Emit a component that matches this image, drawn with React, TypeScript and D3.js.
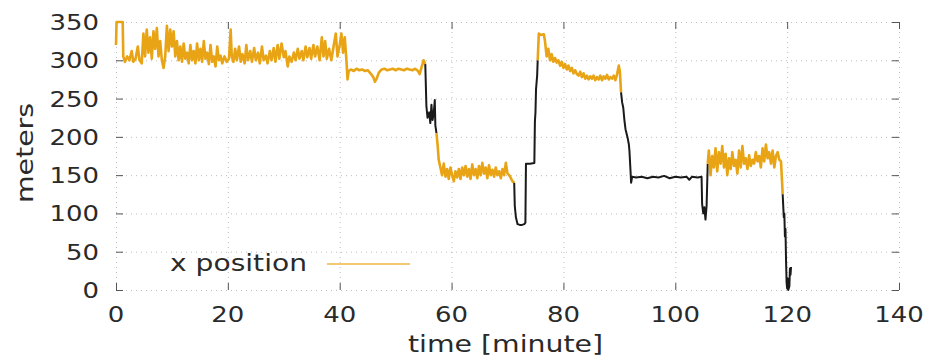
import React, { useEffect, useRef } from "react";
import * as d3 from "d3";

// tick labels
const xTicks = [0, 20, 40, 60, 80, 100, 120, 140];
const yTicks = [0, 50, 100, 150, 200, 250, 300, 350];

// [time in minutes, x position in meters]
const xPosition: [number, number][] = [
    [0, 320], [0.1, 350], [1.2, 350], [1.3, 305], [1.6, 298], [2.0, 305], [2.4, 300], [2.8, 312],
    [3.1, 298], [3.5, 302], [3.9, 318], [4.2, 300], [4.6, 296], [4.9, 335], [5.2, 305], [5.5, 340],
    [5.8, 310], [6.1, 330], [6.4, 302], [6.7, 338], [7.0, 315], [7.3, 342], [7.6, 305], [7.9, 325],
    [8.2, 300], [8.5, 290], [8.8, 305], [9.1, 345], [9.4, 312], [9.7, 340], [10.0, 318], [10.3, 338],
    [10.6, 305], [10.9, 325], [11.2, 300], [11.5, 318], [11.8, 298], [12.1, 322], [12.4, 302], [12.7, 310],
    [13.0, 296], [13.3, 320], [13.6, 300], [13.9, 312], [14.2, 296], [14.5, 322], [14.8, 300], [15.1, 315],
    [15.4, 298], [15.7, 325], [16.0, 302], [16.3, 310], [16.6, 295], [16.9, 320], [17.2, 298], [17.5, 305],
    [17.8, 292], [18.1, 318], [18.4, 300], [18.7, 306], [19.0, 296], [19.4, 305], [19.8, 298], [20.2, 302],
    [20.5, 340], [20.7, 305], [21.0, 298], [21.3, 315], [21.6, 300], [22.0, 318], [22.3, 298], [22.6, 308],
    [23.0, 296], [23.3, 320], [23.6, 300], [24.0, 312], [24.3, 298], [24.7, 316], [25.0, 300], [25.4, 310],
    [25.7, 296], [26.1, 318], [26.4, 300], [26.8, 306], [27.1, 296], [27.5, 312], [27.8, 300], [28.2, 316],
    [28.5, 298], [28.9, 320], [29.2, 302], [29.6, 322], [30.0, 304], [30.3, 312], [30.7, 292], [31.0, 305],
    [31.4, 298], [31.8, 310], [32.1, 300], [32.5, 315], [32.8, 302], [33.2, 312], [33.5, 300], [33.9, 318],
    [34.2, 304], [34.6, 316], [34.9, 302], [35.3, 320], [35.6, 305], [36.0, 318], [36.4, 300], [36.8, 330],
    [37.1, 305], [37.4, 325], [37.7, 302], [38.1, 315], [38.5, 300], [38.9, 318], [39.3, 335], [39.6, 305],
    [40.0, 320], [40.3, 335], [40.6, 310], [40.9, 330], [41.2, 300], [41.4, 275], [41.6, 286],
    [42.0, 288], [42.5, 286], [43.0, 289], [43.5, 287], [44.0, 288], [44.5, 286], [45.0, 287], [45.5, 283],
    [46.0, 278], [46.3, 272], [46.6, 276], [47.0, 284], [47.5, 288], [48.0, 289], [48.5, 287], [49.0, 288],
    [49.5, 289], [50.0, 287], [50.5, 289], [51.0, 288], [51.5, 287], [52.0, 289], [52.5, 288], [53.0, 287],
    [53.5, 289], [54.0, 286], [54.3, 282], [54.6, 290], [55.0, 300], [55.3, 295],
    [55.5, 240], [55.7, 225], [56.0, 232], [56.2, 218], [56.4, 242], [56.6, 222], [56.8, 230], [57.0, 248],
    [57.1, 215], [57.3, 205],
    [57.5, 190], [57.7, 170], [58.0, 160], [58.3, 150], [58.6, 165], [58.9, 148], [59.2, 158], [59.5, 145],
    [59.8, 160], [60.1, 150], [60.4, 142], [60.7, 155], [61.0, 147], [61.3, 158], [61.6, 145], [61.9, 160],
    [62.2, 150], [62.5, 162], [62.8, 148], [63.1, 158], [63.4, 145], [63.7, 164], [64.0, 150], [64.3, 158],
    [64.6, 146], [64.9, 162], [65.2, 150], [65.5, 166], [65.8, 152], [66.1, 160], [66.4, 146], [66.7, 163],
    [67.0, 150], [67.3, 157], [67.6, 148], [67.9, 160], [68.2, 150], [68.5, 155], [68.8, 146], [69.1, 158],
    [69.4, 150], [69.7, 166], [70.0, 152], [70.3, 150], [70.6, 146], [70.9, 142], [71.2, 140],
    [71.3, 110], [71.5, 95], [71.8, 86], [72.2, 85], [72.6, 85], [73.0, 86], [73.2, 88], [73.3, 165],
    [74.0, 165], [74.8, 166], [74.9, 220], [75.0, 232], [75.1, 262], [75.3, 280],
    [75.4, 300], [75.6, 335], [76.0, 333], [76.5, 334], [76.7, 325], [77.0, 305], [77.3, 315], [77.6, 300],
    [77.9, 308], [78.2, 298], [78.5, 303], [78.8, 297], [79.1, 300], [79.4, 293], [79.7, 298], [80.0, 290],
    [80.3, 295], [80.6, 288], [80.9, 293], [81.2, 286], [81.5, 290], [81.8, 283], [82.1, 287], [82.4, 282],
    [82.7, 280], [83.0, 285], [83.3, 278], [83.6, 283], [83.9, 276], [84.2, 280], [84.5, 275], [84.8, 279],
    [85.1, 276], [85.4, 280], [85.7, 274], [86.0, 278], [86.3, 275], [86.6, 280], [86.9, 274], [87.2, 279],
    [87.5, 276], [87.8, 281], [88.1, 275], [88.4, 278], [88.7, 276], [89.0, 280], [89.3, 274], [89.6, 282],
    [89.9, 293], [90.1, 285],
    [90.3, 258], [90.5, 245], [90.7, 238], [90.9, 222], [91.1, 210], [91.3, 204], [91.5, 198], [91.7, 190],
    [91.8, 182], [92.0, 155], [92.1, 140], [92.3, 148], [93, 147], [94, 148], [95, 146], [96, 148],
    [97, 147], [98, 149], [99, 146], [100, 148], [101, 147], [102, 148], [102.5, 144], [103, 148],
    [104, 147], [104.7, 148], [104.8, 112], [105.0, 100], [105.2, 108], [105.4, 92], [105.6, 110],
    [105.8, 165], [106.0, 182], [106.3, 150], [106.6, 175], [106.9, 160], [107.2, 185], [107.5, 155], [107.8, 180],
    [108.1, 165], [108.4, 188], [108.7, 160], [109.0, 178], [109.3, 150], [109.6, 172], [109.9, 158], [110.2, 180],
    [110.5, 162], [110.8, 170], [111.1, 152], [111.4, 182], [111.7, 160], [112.0, 188], [112.3, 165], [112.6, 172],
    [112.9, 158], [113.2, 176], [113.5, 162], [113.8, 170], [114.1, 165], [114.4, 180], [114.7, 168], [115.0, 175],
    [115.3, 160], [115.6, 185], [115.9, 168], [116.2, 190], [116.5, 172], [116.8, 180], [117.1, 165], [117.4, 182],
    [117.7, 160], [118.0, 175], [118.3, 180], [118.6, 170], [118.9, 168], [119.1, 140], [119.2, 125],
    [119.3, 110], [119.4, 95], [119.5, 100], [119.6, 70], [119.7, 80], [119.8, 40], [119.9, 10], [120.0, 2],
    [120.1, 15], [120.2, 0], [120.4, 5], [120.5, 28], [120.6, 20], [120.7, 30],
];

// time spans drawn in black (moving between spots)
const blackRanges: [number, number][] = [
    [55.4, 57.35],
    [71.25, 75.35],
    [90.2, 105.7],
    [119.25, 121],
];

const ORANGE = "#e8a414";

const App = () => {
    const chartRef = useRef<SVGSVGElement>(null);

    useEffect(() => {
        document.body.style.margin = "0";
        const svg = d3.select(chartRef.current);
        svg.selectAll("*").remove();

        const width = 931;
        const height = 364;
        const left = 116, right = 899, top = 22, bottom = 290;

        const x = d3.scaleLinear().domain([0, 140]).range([left, right]);
        const y = d3.scaleLinear().domain([0, 350]).range([bottom, top]);

        svg.attr("width", width).attr("height", height);

        // dotted grid
        const grid = svg.append("g").attr("stroke", "#bdbdbd").attr("stroke-width", 1)
            .attr("stroke-dasharray", "1,4");
        grid.selectAll(".gx").data(xTicks).enter().append("line")
            .attr("x1", (d) => x(d) + 0.5).attr("x2", (d) => x(d) + 0.5)
            .attr("y1", top).attr("y2", bottom);
        grid.selectAll(".gy").data(yTicks).enter().append("line")
            .attr("x1", left).attr("x2", right)
            .attr("y1", (d) => y(d) + 0.5).attr("y2", (d) => y(d) + 0.5);

        // tick marks on all four sides
        const ticks = svg.append("g").attr("stroke", "#555").attr("stroke-width", 1);
        xTicks.forEach((t) => {
            ticks.append("line").attr("x1", x(t) + 0.5).attr("x2", x(t) + 0.5).attr("y1", bottom).attr("y2", bottom - 7);
            ticks.append("line").attr("x1", x(t) + 0.5).attr("x2", x(t) + 0.5).attr("y1", top).attr("y2", top + 7);
        });
        yTicks.forEach((t) => {
            ticks.append("line").attr("x1", left).attr("x2", left + 7).attr("y1", y(t) + 0.5).attr("y2", y(t) + 0.5);
            ticks.append("line").attr("x1", right).attr("x2", right - 7).attr("y1", y(t) + 0.5).attr("y2", y(t) + 0.5);
        });

        // data line, split into coloured runs
        const isBlack = (t: number) => blackRanges.some(([a, b]) => t >= a && t <= b);
        const runs: { color: string; pts: [number, number][] }[] = [];
        for (let i = 1; i < xPosition.length; i++) {
            const p0 = xPosition[i - 1];
            const p1 = xPosition[i];
            const color = isBlack((p0[0] + p1[0]) / 2) ? "#1a1a1a" : ORANGE;
            const last = runs[runs.length - 1];
            if (last && last.color === color) last.pts.push(p1);
            else runs.push({ color, pts: [p0, p1] });
        }
        const line = d3.line<[number, number]>().x((d) => x(d[0])).y((d) => y(d[1]));
        svg.append("g").selectAll("path").data(runs).enter().append("path")
            .attr("d", (d) => line(d.pts))
            .attr("fill", "none")
            .attr("stroke", (d) => d.color)
            .attr("stroke-width", (d) => (d.color === ORANGE ? 2.6 : 2))
            .attr("stroke-linejoin", "round");

        const font = "DejaVu Sans, sans-serif";
        const ink = "#2a2a2a";

        // tick labels
        svg.append("g").selectAll("text").data(xTicks).enter().append("text")
            .attr("x", (d) => x(d)).attr("y", 322)
            .attr("text-anchor", "middle")
            .attr("textLength", (d) => String(d).length * 16.5)
            .attr("lengthAdjust", "spacingAndGlyphs")
            .style("font-family", font).style("font-size", "22px").attr("fill", ink)
            .text((d) => d);
        svg.append("g").selectAll("text").data(yTicks).enter().append("text")
            .attr("x", 99).attr("y", (d) => y(d) + 8)
            .attr("text-anchor", "end")
            .attr("textLength", (d) => String(d).length * 16.5)
            .attr("lengthAdjust", "spacingAndGlyphs")
            .style("font-family", font).style("font-size", "22px").attr("fill", ink)
            .text((d) => d);

        // axis titles
        svg.append("text")
            .attr("x", (left + right) / 2 - 2).attr("y", 352)
            .attr("text-anchor", "middle")
            .attr("textLength", 195).attr("lengthAdjust", "spacingAndGlyphs")
            .style("font-family", font).style("font-size", "23px").attr("fill", ink)
            .text("time [minute]");
        svg.append("text")
            .attr("transform", "translate(33,153) rotate(-90)")
            .attr("text-anchor", "middle")
            .attr("textLength", 100).attr("lengthAdjust", "spacingAndGlyphs")
            .style("font-family", font).style("font-size", "23px").attr("fill", ink)
            .text("meters");

        // legend
        svg.append("text")
            .attr("x", 170).attr("y", 271)
            .attr("textLength", 137).attr("lengthAdjust", "spacingAndGlyphs")
            .style("font-family", font).style("font-size", "23px").attr("fill", ink)
            .text("x position");
        svg.append("line")
            .attr("x1", 327).attr("x2", 410).attr("y1", 264).attr("y2", 264)
            .attr("stroke", "#f2c870").attr("stroke-width", 2);
    }, []);

    return <svg ref={chartRef} style={{ display: "block" }}></svg>;
};

export default App;
